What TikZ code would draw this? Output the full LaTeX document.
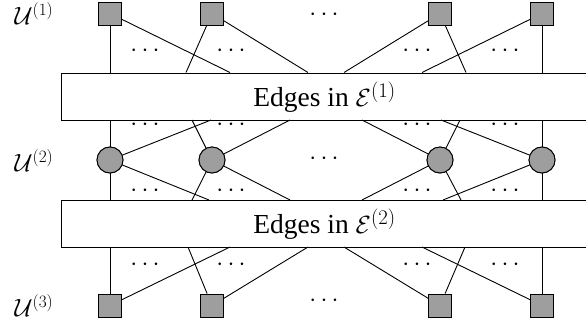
\documentclass[tikz,border=0pt]{standalone}
\usepackage{fontspec}
\setmainfont{Liberation Serif}
\begin{document}
\begin{tikzpicture}[x=1pt,y=-1pt,
  every node/.style={font=\fontsize{24}{29}\selectfont},
  sq/.style={draw, fill=black!38, minimum size=23pt, inner sep=0pt, line width=0.9pt},
  cir/.style={draw, fill=black!38, circle, minimum size=26pt, inner sep=0pt, line width=0.9pt},
  edge/.style={line width=0.9pt},
  boxs/.style={draw, fill=white, line width=0.9pt},
  boxtext/.style={font=\fontsize{27.5}{33}\selectfont},
  lab/.style={font=\fontsize{26}{31}\selectfont},
  dotsn/.style={inner sep=0pt, text height=7pt, text depth=0pt}
]
\useasboundingbox (0,0) rectangle (586,325);
% columns
\def\xa{110}\def\xb{212}\def\xc{440}\def\xd{542}
% boxes
\node[boxs, anchor=north west, minimum width=560pt, minimum height=47.5pt, inner sep=0pt] (b1) at (61,72.5) {};
\node[boxtext] at (324.5,97) (t1) {Edges in $\mathcal{E}^{(1)}$};
\node[boxs, anchor=north west, minimum width=560pt, minimum height=47pt, inner sep=0pt] (b2) at (61,200) {};
\node[boxtext] at (324.5,224) (t2) {Edges in $\mathcal{E}^{(2)}$};
% vertices
\node[sq] (a1) at (\xa,13.5) {};
\node[sq] (a2) at (\xb,13.5) {};
\node[sq] (a3) at (\xc,13.5) {};
\node[sq] (a4) at (\xd,13.5) {};
\node[cir] (c1) at (\xa,160) {};
\node[cir] (c2) at (\xb,160) {};
\node[cir] (c3) at (\xc,160) {};
\node[cir] (c4) at (\xd,160) {};
\node[sq] (d1) at (\xa,305.5) {};
\node[sq] (d2) at (\xb,305.5) {};
\node[sq] (d3) at (\xc,305.5) {};
\node[sq] (d4) at (\xd,305.5) {};
% labels
\node[lab] (l1) at (34,14) {$\mathcal{U}^{(1)}$};
\node[lab] (l2) at (34,161) {$\mathcal{U}^{(2)}$};
\node[lab] (l3) at (34,306) {$\mathcal{U}^{(3)}$};
% coordinates on box borders
\coordinate (p1) at (230,72.5);
\coordinate (p2) at (186,72.5);
\coordinate (p3) at (308,72.5);
\coordinate (p4) at (344,72.5);
\coordinate (p5) at (466,72.5);
\coordinate (p6) at (422,72.5);
\coordinate (q1) at (211,120);
\coordinate (q2) at (192,120);
\coordinate (q3) at (290,120);
\coordinate (q4) at (362,120);
\coordinate (q5) at (460,120);
\coordinate (q6) at (441,120);
\coordinate (r1) at (209,200);
\coordinate (r2) at (192,200);
\coordinate (r3) at (290,200);
\coordinate (r4) at (362,200);
\coordinate (r5) at (461,200);
\coordinate (r6) at (443,200);
\coordinate (s1) at (230,247);
\coordinate (s2) at (188,247);
\coordinate (s3) at (308,247);
\coordinate (s4) at (344,247);
\coordinate (s5) at (465,247);
\coordinate (s6) at (422,247);
% edges layer 1
\draw[edge] (a1) -- (a1 |- b1.north);
\draw[edge] (a1) -- (p1);
\draw[edge] (a2) -- (p2);
\draw[edge] (a2) -- (p3);
\draw[edge] (a3) -- (p4);
\draw[edge] (a3) -- (p5);
\draw[edge] (a4) -- (p6);
\draw[edge] (a4) -- (a4 |- b1.north);
% below box 1
\draw[edge] (c1) -- (c1 |- b1.south);
\draw[edge] (c1) -- (q1);
\draw[edge] (c2) -- (q2);
\draw[edge] (c2) -- (q3);
\draw[edge] (c3) -- (q4);
\draw[edge] (c3) -- (q5);
\draw[edge] (c4) -- (q6);
\draw[edge] (c4) -- (c4 |- b1.south);
% above box 2
\draw[edge] (c1) -- (c1 |- b2.north);
\draw[edge] (c1) -- (r1);
\draw[edge] (c2) -- (r2);
\draw[edge] (c2) -- (r3);
\draw[edge] (c3) -- (r4);
\draw[edge] (c3) -- (r5);
\draw[edge] (c4) -- (r6);
\draw[edge] (c4) -- (c4 |- b2.north);
% below box 2
\draw[edge] (d1) -- (d1 |- b2.south);
\draw[edge] (d1) -- (s1);
\draw[edge] (d2) -- (s2);
\draw[edge] (d2) -- (s3);
\draw[edge] (d3) -- (s4);
\draw[edge] (d3) -- (s5);
\draw[edge] (d4) -- (s6);
\draw[edge] (d4) -- (d4 |- b2.south);
% redraw vertices on top of edges
\foreach \n in {a1,a2,a3,a4,d1,d2,d3,d4}{\node[sq] at (\n) {};}
\foreach \n in {c1,c2,c3,c4}{\node[cir] at (\n) {};}
% dots
\foreach \y [count=\i] in {53,127,193,267}{
  \node[dotsn] (da\i) at (145,\y) {$\cdots$};
  \node[dotsn] (db\i) at (231,\y) {$\cdots$};
  \node[dotsn] (dc\i) at (417,\y) {$\cdots$};
  \node[dotsn] (dd\i) at (505,\y) {$\cdots$};
}
\node[dotsn] (m1) at (324,17) {$\cdots$};
\node[dotsn] (m2) at (324,161) {$\cdots$};
\node[dotsn] (m3) at (324,303) {$\cdots$};
\end{tikzpicture}
\end{document}
